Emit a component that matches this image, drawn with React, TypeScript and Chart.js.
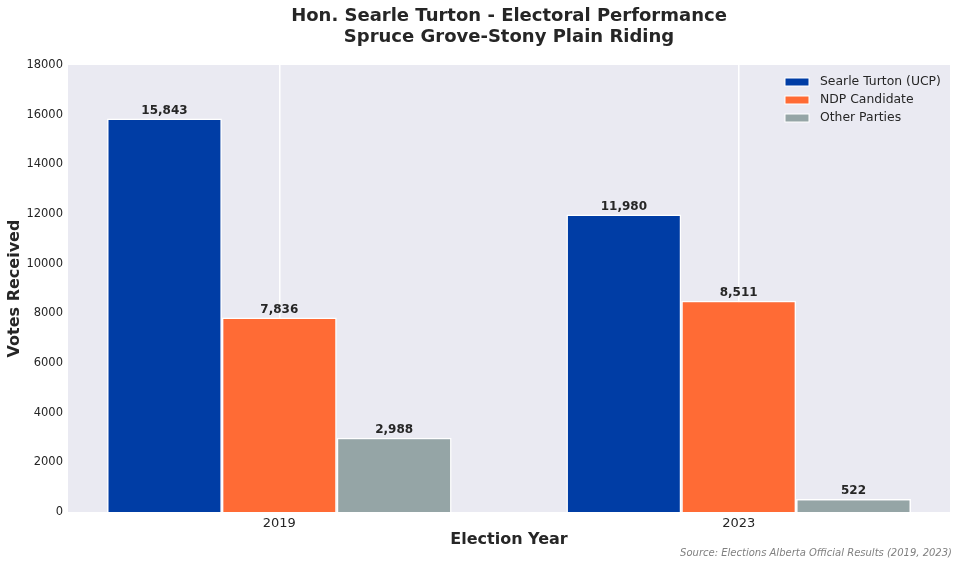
import React, { useRef, useEffect } from 'react';
import { Chart, registerables } from 'chart.js';
import type { Plugin } from 'chart.js';

Chart.register(...registerables);

const years = ['2019', '2023'];
const seriesLabels = ['Searle Turton (UCP)', 'NDP Candidate', 'Other Parties'];
const turtonVotes = [15843, 11980];
const ndpVotes = [7836, 8511];
const otherVotes = [2988, 522];
const yTickValues = [0, 2000, 4000, 6000, 8000, 10000, 12000, 14000, 16000, 18000];
const seriesColors = ['#003DA5', '#FF6B35', '#95A5A6'];

const titleLines = ['Hon. Searle Turton - Electoral Performance', 'Spruce Grove-Stony Plain Riding'];
const sourceNote = 'Source: Elections Alberta Official Results (2019, 2023)';

const FONT = "'DejaVu Sans', sans-serif";
const TEXT = '#262626';

// grey seaborn-like plot background
const backdrop: Plugin<'bar'> = {
  id: 'backdrop',
  beforeDraw(chart) {
    const { ctx, chartArea: a } = chart;
    ctx.save();
    ctx.fillStyle = '#EAEAF2';
    ctx.fillRect(a.left, a.top, a.right - a.left, a.bottom - a.top);
    ctx.restore();
  },
};

// value labels above bars
const barLabels: Plugin<'bar'> = {
  id: 'barLabels',
  afterDatasetsDraw(chart) {
    const { ctx } = chart;
    ctx.save();
    ctx.font = `bold 12px ${FONT}`;
    ctx.fillStyle = TEXT;
    ctx.textAlign = 'center';
    ctx.textBaseline = 'bottom';
    chart.data.datasets.forEach((ds, di) => {
      const meta = chart.getDatasetMeta(di);
      meta.data.forEach((el, i) => {
        const pt = ds.data[i] as { x: number; y: number };
        ctx.fillText(pt.y.toLocaleString('en-US'), el.x, el.y - 2);
      });
    });
    ctx.restore();
  },
};

// title, legend and source note
const decorations: Plugin<'bar'> = {
  id: 'decorations',
  afterDraw(chart) {
    const { ctx, chartArea: a } = chart;
    const cx = (a.left + a.right) / 2;
    ctx.save();
    ctx.fillStyle = TEXT;
    ctx.textAlign = 'center';
    ctx.textBaseline = 'middle';
    ctx.font = `bold 18px ${FONT}`;
    ctx.fillText(titleLines[0], cx, 16);
    ctx.fillText(titleLines[1], cx, 37);

    // legend
    const lx = a.right - 165;
    const ly = a.top + 17;
    ctx.textAlign = 'left';
    ctx.font = `12.4px ${FONT}`;
    chart.data.datasets.forEach((ds, i) => {
      const y = ly + i * 18;
      ctx.fillStyle = ds.backgroundColor as string;
      ctx.fillRect(lx, y - 4, 24, 8);
      ctx.strokeStyle = '#ffffff';
      ctx.lineWidth = 1;
      ctx.strokeRect(lx, y - 4, 24, 8);
      ctx.fillStyle = TEXT;
      ctx.fillText(ds.label as string, lx + 35, y);
    });

    ctx.textAlign = 'right';
    ctx.font = `italic 10px ${FONT}`;
    ctx.fillStyle = '#808080';
    ctx.fillText(sourceNote, chart.width - 8, 553);
    ctx.restore();
  },
};

const App: React.FC = () => {
  const canvasRef = useRef<HTMLCanvasElement>(null);
  const chartRef = useRef<Chart<'bar'> | null>(null);

  useEffect(() => {
    document.body.style.margin = '0';
    if (!canvasRef.current) return;
    const ctx = canvasRef.current.getContext('2d');
    if (!ctx) return;

    if (chartRef.current) chartRef.current.destroy();

    const series = [turtonVotes, ndpVotes, otherVotes];

    chartRef.current = new Chart(ctx, {
      type: 'bar',
      data: {
        datasets: series.map((values, s) => ({
          label: seriesLabels[s],
          data: values.map((v, i) => ({ x: i, y: v })),
          backgroundColor: seriesColors[s],
          borderColor: '#ffffff',
          borderWidth: 1.5,
          categoryPercentage: 0.75,
          barPercentage: 1,
        })),
      },
      options: {
        responsive: true,
        maintainAspectRatio: false,
        animation: false,
        layout: { padding: { top: 65, right: 10, left: 0, bottom: 0 } },
        plugins: {
          legend: { display: false },
          tooltip: { enabled: false },
          title: { display: false },
        },
        scales: {
          x: {
            type: 'linear',
            min: -0.46,
            max: 1.46,
            offset: false,
            afterBuildTicks: (scale) => {
              scale.ticks = years.map((_, i) => ({ value: i }));
            },
            afterFit: (scale) => {
              scale.height = 55;
            },
            grid: { color: '#ffffff', lineWidth: 1.5, drawTicks: false, offset: false },
            border: { display: false },
            ticks: {
              padding: 4,
              color: TEXT,
              font: { family: FONT, size: 13 },
              callback: (v) => years[Number(v)] ?? '',
            },
            title: {
              display: true,
              text: 'Election Year',
              color: TEXT,
              font: { family: FONT, size: 16, weight: 'bold' },
              padding: { top: 0, bottom: 18 },
            },
          },
          y: {
            min: yTickValues[0],
            max: yTickValues[yTickValues.length - 1],
            afterBuildTicks: (scale) => {
              scale.ticks = yTickValues.map((value) => ({ value }));
            },
            afterFit: (scale) => {
              scale.width = 68;
            },
            grid: { display: false, drawTicks: false },
            border: { display: false },
            ticks: {
              padding: 5,
              color: TEXT,
              font: { family: FONT, size: 11.5 },
              callback: (v) => String(v),
            },
            title: {
              display: true,
              text: 'Votes Received',
              color: TEXT,
              font: { family: FONT, size: 16, weight: 'bold' },
              padding: { top: 5, bottom: 0 },
            },
          },
        },
      },
      plugins: [backdrop, barLabels, decorations],
    });

    return () => {
      if (chartRef.current) {
        chartRef.current.destroy();
        chartRef.current = null;
      }
    };
  }, []);

  return (
    <div style={{ position: 'relative', width: 960, height: 567 }}>
      <canvas ref={canvasRef} />
    </div>
  );
};

export default App;
